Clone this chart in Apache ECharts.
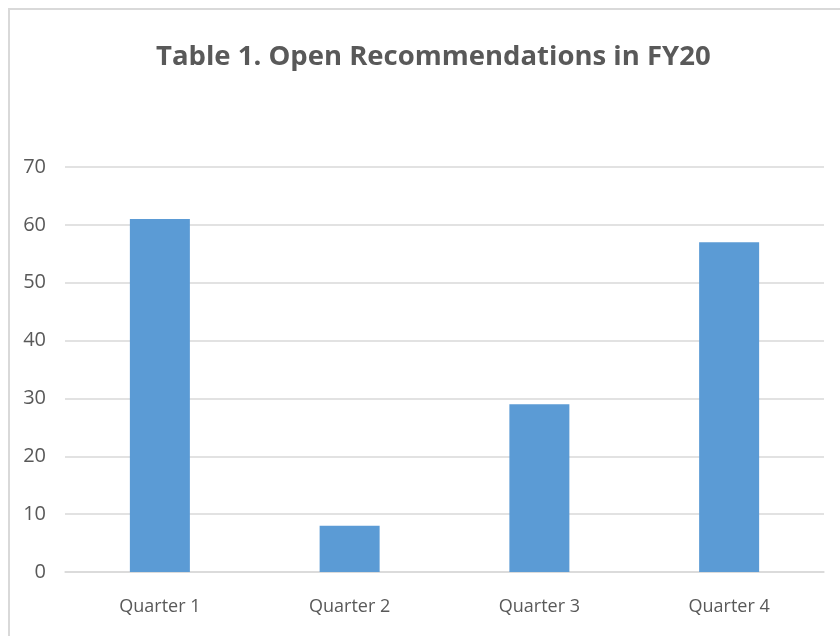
<!DOCTYPE html>
<html>
<head>
<meta charset="utf-8">
<script src="https://cdn.jsdelivr.net/npm/echarts@6/dist/echarts.min.js"></script>
<style>
  html, body { margin: 0; padding: 0; background: #fff; }
  #chart { width: 840px; height: 636px; }
</style>
</head>
<body>
<div id="chart"></div>
<script>
var categories = ['Quarter 1', 'Quarter 2', 'Quarter 3', 'Quarter 4'];
var openRecs = [61, 8, 29, 57];
var yTicks = { min: 0, max: 70, interval: 10 };

var font = '"Open Sans", sans-serif';
var chart = echarts.init(document.getElementById('chart'));

var option = {
  animation: false,
  backgroundColor: '#fff',
  title: {
    text: 'Table 1. Open Recommendations in FY20',
    left: 151,
    top: 38,
    textStyle: { fontFamily: font, fontSize: 27.5, fontWeight: 'bold', color: '#595959' }
  },
  graphic: [{
    type: 'rect',
    shape: { x: 9, y: 9, width: 900, height: 700 },
    style: { fill: 'none', stroke: '#d9d9d9', lineWidth: 2 },
    silent: true
  }],
  grid: { left: 65, right: 16, top: 167, bottom: 64 },
  xAxis: {
    type: 'category',
    data: categories,
    axisLine: { lineStyle: { color: '#d9d9d9', width: 1.5 } },
    axisTick: { show: false },
    axisLabel: { fontFamily: font, fontSize: 18, color: '#595959', margin: 26 }
  },
  yAxis: {
    type: 'value',
    min: yTicks.min,
    max: yTicks.max,
    interval: yTicks.interval,
    axisLine: { show: false },
    axisTick: { show: false },
    splitLine: { lineStyle: { color: '#d9d9d9', width: 1.5 } },
    axisLabel: { fontFamily: font, fontSize: 20, color: '#595959', margin: 19 }
  },
  series: [{
    type: 'bar',
    data: openRecs,
    barWidth: 60,
    itemStyle: { color: '#5b9bd5' }
  }]
};
chart.setOption(option);
</script>
</body>
</html>
